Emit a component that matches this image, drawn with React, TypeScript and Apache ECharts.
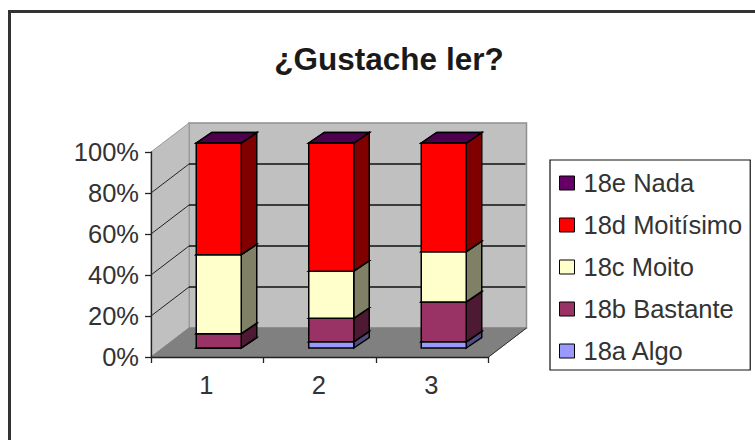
import React, { useEffect, useRef } from "react";
import * as echarts from "echarts";

const categories = ["1", "2", "3"];
const yTicks = [0, 20, 40, 60, 80, 100];
const algo = [0, 3, 3];
const bastante = [7, 11.5, 19.5];
const moito = [38.5, 23, 24.5];
const moitisimo = [54.5, 62.5, 53];
const nada = [0, 0, 0];

const seriesDefs = [
  { name: "18a Algo", values: algo, color: "#9999ff", side: "#4d4d80", top: "#7373bf" },
  { name: "18b Bastante", values: bastante, color: "#993366", side: "#4d1933", top: "#73264d" },
  { name: "18c Moito", values: moito, color: "#ffffcc", side: "#808066", top: "#bfbf99" },
  { name: "18d Moitísimo", values: moitisimo, color: "#ff0000", side: "#800000", top: "#bf0000" },
  { name: "18e Nada", values: nada, color: "#660066", side: "#330033", top: "#4d004d" },
];
const legendOrder = ["18e Nada", "18d Moitísimo", "18c Moito", "18b Bastante", "18a Algo"];

const WALL_DX = 38;
const WALL_DY = -29;
const BAR_SHIFT_X = 11.5;
const BAR_SHIFT_Y = -9;
const BAR_DX = 15.5;
const BAR_DY = -10.5;
const BAR_RATIO = 0.4;
const FONT = '"Liberation Sans", Arial, sans-serif';

const poly = (points: number[][], fill: string, stroke: string, lineWidth = 1) => ({
  type: "polygon",
  shape: { points },
  style: { fill, stroke, lineWidth },
  silent: true,
});
const seg = (a: number[], b: number[], stroke: string, lineWidth = 1) => ({
  type: "line",
  shape: { x1: a[0], y1: a[1], x2: b[0], y2: b[1] },
  style: { stroke, lineWidth },
  silent: true,
});

function renderWalls(params: any, api: any) {
  const v = api.value(0);
  const cs = params.coordSys;
  const x0 = cs.x;
  const x1 = cs.x + cs.width;
  const y = api.coord([0, v])[1];
  const children: any[] = [];
  if (v === yTicks[0]) {
    const yBottom = y;
    const yTop = cs.y;
    children.push(
      poly(
        [[x0 + WALL_DX, yTop + WALL_DY], [x1 + WALL_DX, yTop + WALL_DY], [x1 + WALL_DX, yBottom + WALL_DY], [x0 + WALL_DX, yBottom + WALL_DY]],
        "#c0c0c0",
        "#8f8f8f",
        1.5
      ),
      poly(
        [[x0, yTop], [x0 + WALL_DX, yTop + WALL_DY], [x0 + WALL_DX, yBottom + WALL_DY], [x0, yBottom]],
        "#c0c0c0",
        "#9a9a9a",
        1
      ),
      poly(
        [[x0, yBottom], [x0 + WALL_DX, yBottom + WALL_DY], [x1 + WALL_DX, yBottom + WALL_DY], [x1, yBottom]],
        "#808080",
        "#808080",
        1
      ),
      seg([x1, yBottom], [x1 + WALL_DX, yBottom + WALL_DY], "#333333", 1)
    );
  } else if (v !== yTicks[yTicks.length - 1]) {
    children.push(
      seg([x0, y], [x0 + WALL_DX, y + WALL_DY], "#222222", 1),
      seg([x0 + WALL_DX, y + WALL_DY], [x1 + WALL_DX - 1, y + WALL_DY], "#111111", 1.3)
    );
  }
  return { type: "group", children };
}

function makeBarRenderer(def: (typeof seriesDefs)[number]) {
  return (_params: any, api: any) => {
    const cat = api.value(0);
    const low = api.coord([cat, api.value(1)]);
    const high = api.coord([cat, api.value(2)]);
    const w = api.size([1, 0])[0] * BAR_RATIO;
    const l = low[0] + BAR_SHIFT_X - w / 2;
    const r = l + w;
    const yl = low[1] + BAR_SHIFT_Y;
    const yh = high[1] + BAR_SHIFT_Y;
    const stroke = "#000000";
    return {
      type: "group",
      children: [
        poly([[r, yl], [r + BAR_DX, yl + BAR_DY], [r + BAR_DX, yh + BAR_DY], [r, yh]], def.side, stroke, 1.5),
        poly([[l, yh], [l + BAR_DX, yh + BAR_DY], [r + BAR_DX, yh + BAR_DY], [r, yh]], def.top, stroke, 1.5),
        poly([[l, yl], [r, yl], [r, yh], [l, yh]], def.color, stroke, 1.5),
      ],
    };
  };
}

function buildSeries() {
  const totals = categories.map(() => 0);
  const out: any[] = [
    {
      type: "custom",
      name: "walls",
      coordinateSystem: "cartesian2d",
      data: yTicks.map((t) => [t]),
      encode: { y: 0 },
      renderItem: renderWalls,
      clip: false,
      silent: true,
      z: 1,
    },
  ];
  seriesDefs.forEach((def, s) => {
    const data = def.values.map((v, i) => {
      const row = [i, totals[i], totals[i] + v];
      totals[i] += v;
      return row;
    });
    out.push({
      type: "custom",
      name: def.name,
      coordinateSystem: "cartesian2d",
      data,
      encode: { x: 0, y: [1, 2] },
      renderItem: makeBarRenderer(def),
      clip: false,
      itemStyle: { color: def.color, borderColor: "#000", borderWidth: 1 },
      z: 2 + s,
    });
  });
  return out;
}

export default function App() {
  const ref = useRef<HTMLDivElement>(null);
  useEffect(() => {
    document.body.style.margin = "0";
    const chart = echarts.init(ref.current!, undefined, { renderer: "svg" });
    chart.setOption({
      animation: false,
      backgroundColor: "#ffffff",
      title: {
        text: "¿Gustache ler?",
        left: 384,
        top: 38,
        textAlign: "center",
        textStyle: { fontFamily: FONT, fontSize: 31.5, fontWeight: "bold", color: "#1a1a1a" },
      },
      grid: { left: 151, top: 152, width: 337.5, height: 205, containLabel: false },
      xAxis: {
        type: "category",
        data: categories,
        z: 10,
        axisLine: { lineStyle: { color: "#222222", width: 1.3 } },
        axisTick: { show: true, length: 6, lineStyle: { color: "#222222", width: 1.3 } },
        axisLabel: { fontFamily: FONT, fontSize: 25.5, color: "#333333", margin: 15, padding: [0, 2, 0, 0] },
        splitLine: { show: false },
      },
      yAxis: {
        type: "value",
        min: 0,
        max: 100,
        interval: 20,
        z: 10,
        axisLine: { show: true, lineStyle: { color: "#222222", width: 1.3 } },
        axisTick: { show: true, length: 6, lineStyle: { color: "#222222", width: 1.3 } },
        axisLabel: { fontFamily: FONT, fontSize: 25.5, color: "#333333", margin: 12, formatter: "{value}%" },
        splitLine: { show: false },
      },
      legend: {
        data: legendOrder,
        orient: "vertical",
        left: 550,
        top: 160,
        padding: [10, 8, 6, 9],
        itemGap: 16,
        itemWidth: 15,
        itemHeight: 14,
        icon: "rect",
        selectedMode: false,
        backgroundColor: "#ffffff",
        borderColor: "#111111",
        borderWidth: 1.2,
        itemStyle: { borderColor: "#000000", borderWidth: 1 },
        textStyle: { fontFamily: FONT, fontSize: 25.5, color: "#333333", padding: [0, 0, 0, 4], lineHeight: 26 },
      },
      graphic: [
        {
          type: "rect",
          silent: true,
          z: 100,
          shape: { x: 9.5, y: 11.5, width: 800, height: 500 },
          style: { fill: "none", stroke: "#333333", lineWidth: 3 },
        },
      ],
      series: buildSeries(),
    });
    return () => chart.dispose();
  }, []);
  return <div ref={ref} style={{ position: "fixed", left: 0, top: 0, width: 755, height: 440 }} />;
}
